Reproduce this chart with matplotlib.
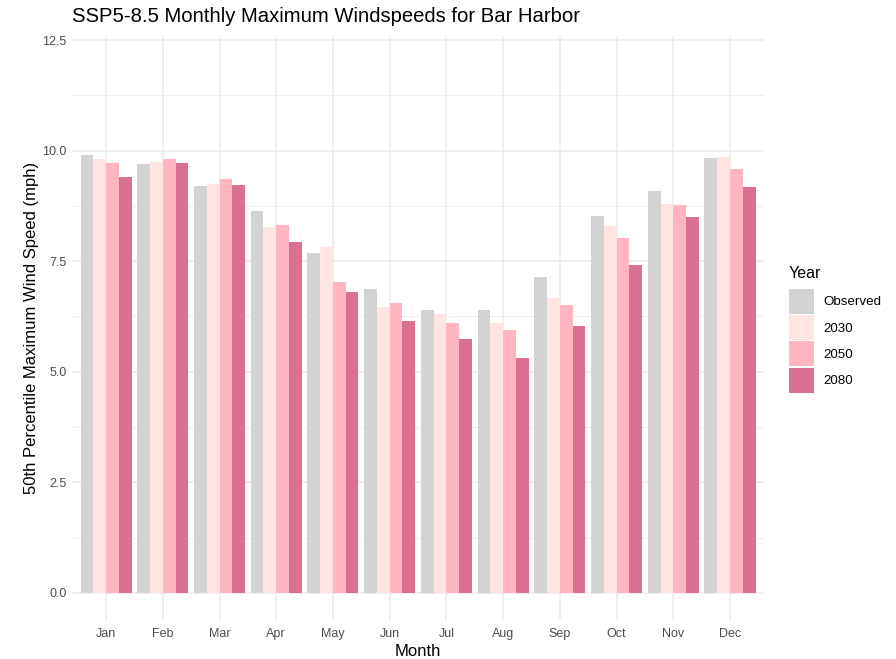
import numpy as np
import matplotlib
matplotlib.use("Agg")
import matplotlib.pyplot as plt

months = ["Jan", "Feb", "Mar", "Apr", "May", "Jun",
          "Jul", "Aug", "Sep", "Oct", "Nov", "Dec"]
years = ["Observed", "2030", "2050", "2080"]
observed = [9.89, 9.70, 9.21, 8.64, 7.69, 6.87, 6.39, 6.40, 7.14, 8.52, 9.09, 9.83]
y2030 = [9.80, 9.74, 9.25, 8.27, 7.81, 6.47, 6.31, 6.10, 6.66, 8.29, 8.79, 9.86]
y2050 = [9.71, 9.80, 9.35, 8.32, 7.04, 6.55, 6.10, 5.94, 6.52, 8.02, 8.76, 9.58]
y2080 = [9.40, 9.73, 9.22, 7.93, 6.80, 6.15, 5.75, 5.32, 6.04, 7.41, 8.50, 9.17]
colors = ["#D3D3D3", "#FFE4E1", "#FFB6C1", "#DB7093"]

plt.rcParams["font.family"] = ["Liberation Sans", "DejaVu Sans"]

fig = plt.figure(figsize=(8.96, 6.59), dpi=100)
ax = fig.add_axes([0.0804, 0.0599, 0.7723, 0.8861])

x = np.arange(1, len(months) + 1)
w = 0.9 / 4
series = [observed, y2030, y2050, y2080]
handles = []
for i, vals in enumerate(series):
    b = ax.bar(x - 0.45 + w * (i + 0.5), vals, width=w, color=colors[i],
               label=years[i], zorder=2, linewidth=0)
    handles.append(b)

ax.set_xlim(0.4, 12.6)
ax.set_ylim(-0.6, 12.6)
ax.set_xticks(x)
ax.set_xticklabels(months)
ax.set_yticks([0, 2.5, 5, 7.5, 10, 12.5])
ax.set_yticklabels(["0.0", "2.5", "5.0", "7.5", "10.0", "12.5"])
ax.set_yticks([1.25, 3.75, 6.25, 8.75, 11.25], minor=True)

ax.grid(True, which="major", color="#EBEBEB", linewidth=1.1, zorder=0)
ax.grid(True, which="minor", axis="y", color="#EBEBEB", linewidth=0.55, zorder=0)
for s in ax.spines.values():
    s.set_visible(False)
ax.tick_params(which="both", length=0, labelsize=9, labelcolor="#4D4D4D")
ax.tick_params(axis="x", pad=6)
ax.tick_params(axis="y", pad=4)

ax.set_xlabel("Month", fontsize=12, labelpad=3)
ax.set_ylabel("50th Percentile Maximum Wind Speed (mph)", fontsize=12, labelpad=2)
ax.set_title("SSP5-8.5 Monthly Maximum Windspeeds for Bar Harbor",
             fontsize=14.6, loc="left", pad=10, x=-0.0)

leg = ax.legend(handles=handles, title="Year", loc="upper left",
                bbox_to_anchor=(0.8806, 0.597), bbox_transform=fig.transFigure,
                frameon=False, fontsize=9.6, title_fontsize=11.5,
                handlelength=1.88, handleheight=2.5, labelspacing=0.1,
                handletextpad=0.67, borderpad=0, borderaxespad=0)
leg._legend_box.align = "left"
leg._legend_box.sep = 6

fig.savefig("out.png", dpi=100)
